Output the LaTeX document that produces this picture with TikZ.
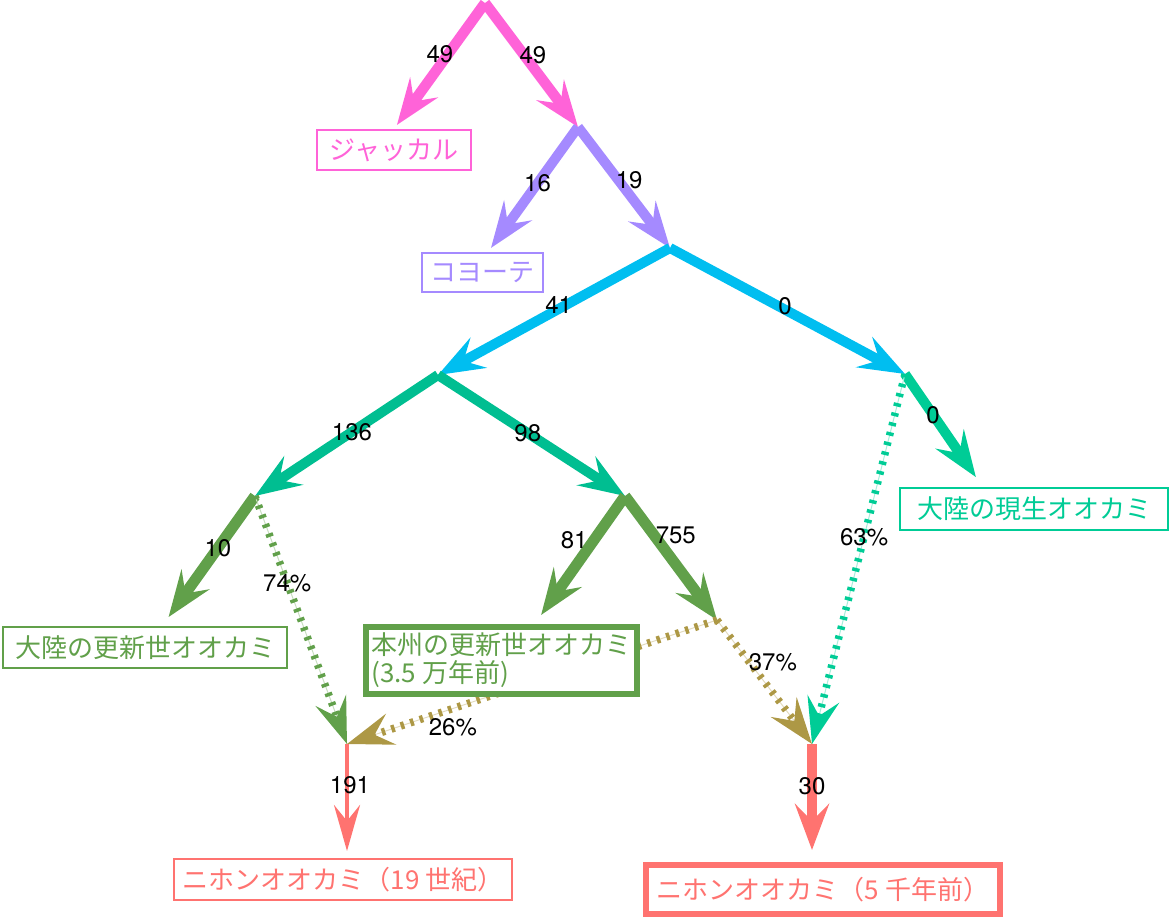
\documentclass[tikz,border=0pt]{standalone}
\usepackage{fontspec}
\setmainfont{TeX Gyre Heros}
\newfontfamily\jpfont{Noto Sans CJK JP}
\usepackage{tikz}
\usetikzlibrary{arrows.meta,calc,backgrounds}

\definecolor{cJackal}{HTML}{FF63D8}
\definecolor{cCoyote}{HTML}{A58AFF}
\definecolor{cBlue}{HTML}{00BEF0}
\definecolor{cTeal}{HTML}{00BE91}
\definecolor{cMint}{HTML}{00CC96}
\definecolor{cPleist}{HTML}{61A04A}
\definecolor{cOlive}{HTML}{AD9845}
\definecolor{cJapan}{HTML}{FF7370}

\begin{document}
\begin{tikzpicture}[
  x=1pt, y=-1pt,
  br/.style={draw=#1, line width=10pt, -{Stealth[length=46pt,width=34pt,inset=17pt]}},
  admix/.style={draw=#1, line width=7.5pt, dash pattern=on 3.5pt off 6.5pt, -{Stealth[length=46pt,width=32pt,inset=17pt]},
    preaction={draw=#1!35, line width=1pt, solid, -}},
  taxon/.style={draw=#1, text=#1, line width=2pt, fill=white, inner sep=0pt, font=\jpfont\fontsize{26}{28}\selectfont},
  num/.style={font=\fontsize{24}{26}\selectfont, inner sep=0pt}
]
\useasboundingbox (0,0) rectangle (1170,918);

% branch points
\coordinate (root) at (485,3);
\coordinate (n1) at (578,127);
\coordinate (n2) at (670,248);
\coordinate (n3) at (438,375);
\coordinate (n4) at (905,374);
\coordinate (n5) at (255,496);
\coordinate (n6) at (625,496);
\coordinate (n7) at (717,620);
\coordinate (jw19) at (347,744);
\coordinate (jw5k) at (812,744);

% leaves
\node[taxon=cJackal, minimum width=154pt, minimum height=40pt] (jackal) at (394,150) {ジャッカル};
\node[taxon=cCoyote, minimum width=121pt, minimum height=39pt] (coyote) at (482.5,272.5) {コヨーテ};
\node[taxon=cMint, minimum width=268pt, minimum height=42pt] (modern) at (1034,509) {大陸の現生オオカミ};
\node[taxon=cPleist, minimum width=284pt, minimum height=41pt] (pleist) at (145,647.5) {大陸の更新世オオカミ};
\node[taxon=cPleist, line width=6pt, minimum width=271pt, minimum height=67pt, align=left] (honshu) at (501.5,660.5) {本州の更新世オオカミ\\(3.5 万年前)};
\node[taxon=cJapan, minimum width=338pt, minimum height=41pt] (jp19) at (343,879.5) {ニホンオオカミ（19 世紀）};
\node[taxon=cJapan, line width=6pt, minimum width=354pt, minimum height=49pt] (jp5k) at (823,889.5) {ニホンオオカミ（5 千年前）};

\begin{scope}[on background layer]
\draw[br=cJackal, line width=10.5pt, shorten >=5pt] (root) -- node[num, pos=.44, xshift=-5pt, yshift=4pt] {49} (jackal.north);
\draw[br=cJackal, line width=10.5pt] (root) -- node[num, pos=.45, xshift=6pt, yshift=4pt] {49} (n1);
\draw[br=cCoyote, shorten >=5pt] (n1) -- node[num, pos=.45] {16} ($(coyote.north west)!.545!(coyote.north east)$);
\draw[br=cCoyote] (n1) -- node[num, pos=.48, xshift=7pt, yshift=5pt] {19} (n2);
\draw[br=cBlue] (n2) -- node[num, pos=.48, yshift=4pt] {41} (n3);
\draw[br=cBlue] (n2) -- node[num, pos=.49, yshift=4pt] {0} (n4);
\draw[br=cTeal] (n3) -- node[num, pos=.47] {136} (n5);
\draw[br=cTeal] (n3) -- node[num, pos=.48] {98} (n6);
\draw[br=cMint, shorten >=12pt] (n4) -- node[num, pos=.36] {0} ($(modern.north west)!.31!(modern.north east)$);
\draw[admix=cMint] (n4) -- node[num, pos=.44] {63\%} (jw5k);
\draw[br=cPleist, line width=11pt, shorten >=11pt] (n5) -- node[num, pos=.40] {10} ($(pleist.north west)!.56!(pleist.north east)$);
\draw[admix=cPleist] (n5) -- node[num, pos=.35] {74\%} (jw19);
\draw[br=cPleist, line width=11pt, shorten >=11pt] (n6) -- node[num, pos=.42, xshift=-13pt, yshift=10pt] {81} ($(honshu.north west)!.62!(honshu.north east)$);
\draw[br=cPleist, line width=11pt] (n6) -- node[num, pos=.40, xshift=14pt, yshift=10pt] {755} (n7);
\draw[admix=cOlive] (n7) -- node[num, pos=.73, xshift=6pt, yshift=-17pt] {26\%} (jw19);
\draw[admix=cOlive] (n7) -- node[num, pos=.43, xshift=15pt, yshift=11pt] {37\%} (jw5k);
\draw[br=cJapan, line width=4.5pt, -{Stealth[length=46pt,width=26pt,inset=16pt]}, shorten >=7pt] (jw19) -- node[num, pos=.36, xshift=3pt] {191} (jw19 |- jp19.north);
\draw[br=cJapan, line width=9.5pt, shorten >=12pt] (jw5k) -- node[num, pos=.36] {30} (jw5k |- jp5k.north);
\end{scope}

\end{tikzpicture}
\end{document}
